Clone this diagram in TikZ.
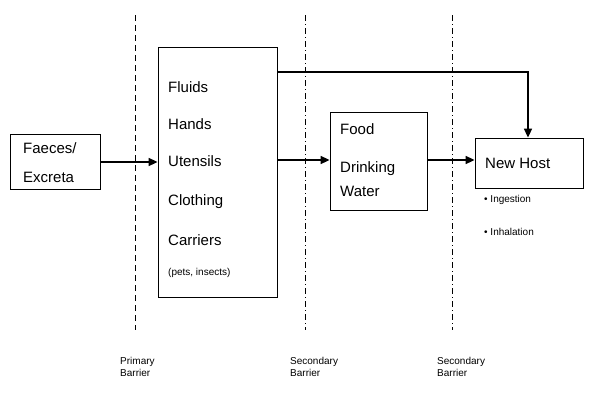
\documentclass[tikz,border=0pt]{standalone}
\usepackage{fontspec}
\setmainfont{Liberation Sans}
\usepackage{tikz}
\usetikzlibrary{arrows.meta}

\tikzset{
  box/.style={draw, line width=0.8pt, inner sep=0},
  word/.style={font=\fontsize{15}{17}\selectfont, anchor=west, inner sep=0},
  small/.style={font=\fontsize{10}{12}\selectfont, anchor=west, inner sep=0},
  flow/.style={-{Triangle[length=9pt,width=8pt]}, line width=1.6pt},
  barrier/.style={line width=0.6pt}
}

\begin{document}
\begin{tikzpicture}[x=1pt, y=-1pt]
      \useasboundingbox (0,0) rectangle (600,400);
      % boxes
      \node[box, minimum width=90pt, minimum height=55pt] (src) at (55,162) {};
      \node[box, minimum width=119pt, minimum height=250pt] (med) at (217.5,172) {};
      \node[box, minimum width=97pt, minimum height=98pt] (food) at (378.5,161) {};
      \node[box, minimum width=108pt, minimum height=50pt] (host) at (529,163) {};
      % box texts
      \node[word] (t1) at (23,148) {Faeces/};
      \node[word] (t2) at (23,177) {Excreta};
      \node[word] (m1) at (168,87) {Fluids};
      \node[word] (m2) at (168,124) {Hands};
      \node[word] (m3) at (168,161) {Utensils};
      \node[word] (m4) at (168,202) {Clothing};
      \node[word] (m5) at (168,240) {Carriers};
      \node[small] (m6) at (168,273) {(pets, insects)};
      \node[word] (f1) at (340,129) {Food};
      \node[word] (f2) at (340,169) {Drinking};
      \node[word] (f3) at (340,191) {Water};
      \node[word] (h1) at (485,163) {New Host};
      \node[small] (h2) at (484,200) {\textbullet\ Ingestion};
      \node[small] (h3) at (484,232) {\textbullet\ Inhalation};
      % barriers
      \coordinate (b1t) at (135,15); \coordinate (b1b) at (135,330);
      \coordinate (b2t) at (305,15); \coordinate (b2b) at (305,330);
      \coordinate (b3t) at (452,15); \coordinate (b3b) at (452,330);
      \draw[barrier, dash pattern=on 6pt off 4pt] (b1t) -- (b1b);
      \draw[barrier, dash pattern=on 6pt off 3pt on 1pt off 3pt] (b2t) -- (b2b);
      \draw[barrier, dash pattern=on 6pt off 3pt on 1pt off 3pt] (b3t) -- (b3b);
      \node[small, align=left] (l1) at (120,367) {Primary\\Barrier};
      \node[small, align=left] (l2) at (290,367) {Secondary\\Barrier};
      \node[small, align=left] (l3) at (437,367) {Secondary\\Barrier};
      % flows
      \draw[flow] (src.east) -- (med.west |- src.east);
      \draw[flow] (med.east |- 0,160) -- (food.west |- 0,160);
      \draw[flow] (food.east |- 0,160) -- (host.west |- 0,160);
      \draw[flow] (med.east |- 0,72) -| (host.north -| 528,0);
    \end{tikzpicture}
\end{document}
